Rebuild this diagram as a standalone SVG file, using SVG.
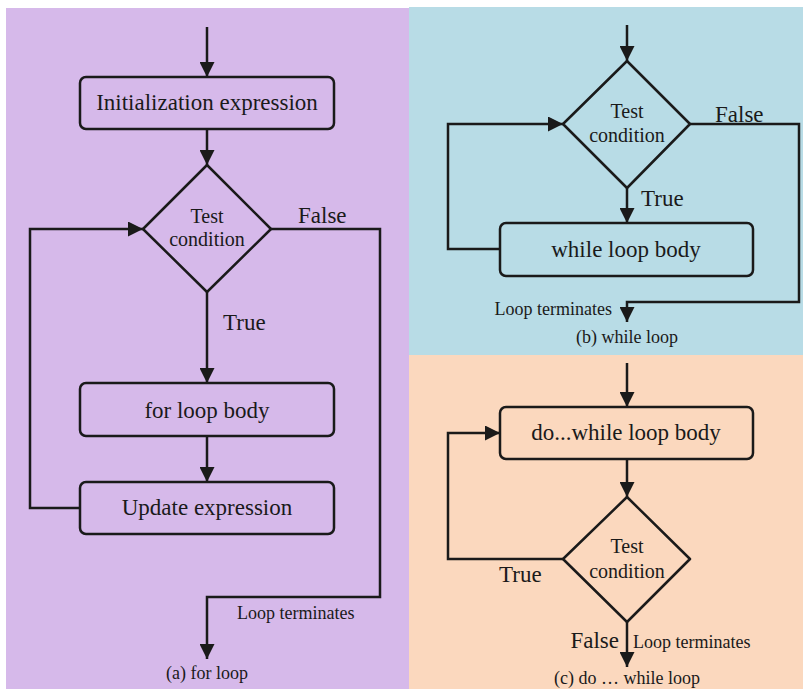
<svg xmlns="http://www.w3.org/2000/svg" width="803" height="689" viewBox="0 0 803 689" font-family="'Liberation Serif', 'Times New Roman', serif">
<style>
.box{fill:none;stroke:#1a1a1a;stroke-width:2.5}
.dia{fill:none;stroke:#1a1a1a;stroke-width:2.5;stroke-linejoin:round}
.ln{fill:none;stroke:#1a1a1a;stroke-width:2.5}
.arr{marker-end:url(#ah)}
text{font-family:'Liberation Serif','Times New Roman',serif;fill:#1a1a1a}
.big{font-size:23px}
.mid{font-size:20px;text-anchor:middle}
.sm{font-size:18px}
.c{text-anchor:middle}
</style>
<defs>
<marker id="ah" viewBox="0 0 10 10" refX="10" refY="5" markerWidth="15" markerHeight="15" markerUnits="userSpaceOnUse" orient="auto">
<path d="M0,0 L10,5 L0,10 z" fill="#1a1a1a"/>
</marker>
</defs>
<rect x="0" y="0" width="803" height="689" fill="#ffffff"/>
<rect id="panel-a" x="6" y="8" width="403" height="681" fill="#D6B9EA"/>
<rect id="panel-b" x="409" y="7" width="394" height="348" fill="#B8DCE6"/>
<rect id="panel-c" x="409" y="355" width="394" height="334" fill="#FBD8BE"/>

<g id="connectors">
<line class="ln arr" x1="207" y1="27" x2="207" y2="77"/>
<line class="ln arr" x1="207" y1="129" x2="207" y2="165"/>
<line class="ln arr" x1="207" y1="292" x2="207" y2="383"/>
<line class="ln arr" x1="207" y1="436" x2="207" y2="482"/>
<polyline class="ln arr" points="80,508 30,508 30,229 143,229"/>
<polyline class="ln arr" points="271,229 380,229 380,597 207,597 207,659"/>

<line class="ln arr" x1="627" y1="25" x2="627" y2="61"/>
<line class="ln arr" x1="627" y1="188" x2="627" y2="223"/>
<polyline class="ln arr" points="500,249 448,249 448,124 563,124"/>
<polyline class="ln arr" points="690,124 799,124 799,302 627,302 627,322"/>

<line class="ln arr" x1="627" y1="363" x2="627" y2="407"/>
<line class="ln arr" x1="627" y1="459" x2="627" y2="497"/>
<polyline class="ln arr" points="563,559 448,559 448,433 500,433"/>
<line class="ln arr" x1="627" y1="622" x2="627" y2="667"/>
</g>

<g id="init-box">
<rect class="box" x="80" y="77" width="254" height="52" rx="6"/>
<text class="big c" x="207" y="110">Initialization expression</text>
</g>
<g id="for-test">
<polygon class="dia" points="207,165 271,229 207,292 143,229"/>
<text class="mid" x="207" y="223">Test</text>
<text class="mid" x="207" y="246">condition</text>
</g>
<g id="for-body">
<rect class="box" x="80" y="383" width="254" height="53" rx="6"/>
<text class="big c" x="207" y="418">for loop body</text>
</g>
<g id="update-box">
<rect class="box" x="80" y="482" width="254" height="52" rx="6"/>
<text class="big c" x="207" y="515">Update expression</text>
</g>
<g id="labels-a">
<text class="big" x="298" y="223">False</text>
<text class="big" x="223" y="330">True</text>
<text class="sm" x="237" y="619">Loop terminates</text>
<text class="sm c" x="207" y="679">(a) for loop</text>
</g>

<g id="while-test">
<polygon class="dia" points="627,61 690,124 627,188 563,124"/>
<text class="mid" x="627" y="118">Test</text>
<text class="mid" x="627" y="142">condition</text>
</g>
<g id="while-body">
<rect class="box" x="500" y="223" width="253" height="53" rx="6"/>
<text class="big c" x="626" y="257">while loop body</text>
</g>
<g id="labels-b">
<text class="big" x="715" y="122">False</text>
<text class="big" x="641" y="206">True</text>
<text class="sm" x="612" y="315" text-anchor="end">Loop terminates</text>
<text class="sm c" x="627" y="343">(b) while loop</text>
</g>

<g id="dowhile-body">
<rect class="box" x="500" y="407" width="253" height="52" rx="6"/>
<text class="big c" x="626" y="440">do...while loop body</text>
</g>
<g id="dowhile-test">
<polygon class="dia" points="627,497 690,559 627,622 563,559"/>
<text class="mid" x="627" y="553">Test</text>
<text class="mid" x="627" y="578">condition</text>
</g>
<g id="labels-c">
<text class="big" x="499" y="582">True</text>
<text class="big" x="619" y="648" text-anchor="end">False</text>
<text class="sm" x="633" y="648">Loop terminates</text>
<text class="sm c" x="627" y="684">(c) do … while loop</text>
</g>
</svg>
